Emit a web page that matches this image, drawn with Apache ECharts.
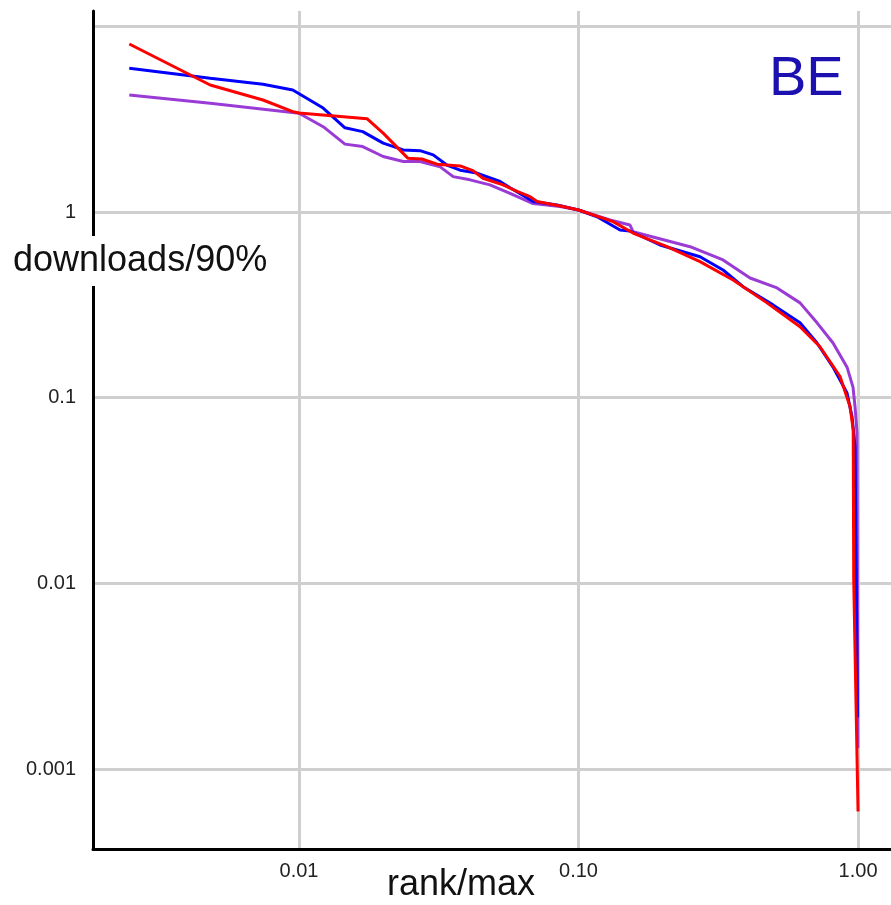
<!DOCTYPE html>
<html>
<head>
<meta charset="utf-8">
<script src="https://cdn.jsdelivr.net/npm/echarts@6/dist/echarts.min.js"></script>
<style>
html,body{margin:0;padding:0;background:#fff;}
#chart{width:891px;height:905px;}
</style>
</head>
<body>
<div id="chart"></div>
<script>
// ---- data ----
var xTickValues = [0.01, 0.1, 1];
var xTickLabels = ['0.01', '0.10', '1.00'];
var yGridValues = [0.001, 0.01, 0.1, 1, 10];
var yTickValues = [0.001, 0.01, 0.1, 1];
var yTickLabels = ['0.001', '0.01', '0.1', '1'];

var seriesNames = ['blue', 'red', 'purple'];

var blueRank = [0.00247, 0.00481, 0.00743, 0.0095, 0.0122, 0.0146, 0.0169, 0.0200, 0.0236, 0.0271, 0.0302, 0.0338, 0.0377, 0.0433, 0.0524, 0.0569, 0.0688, 0.0838, 0.1, 0.1165, 0.1408, 0.1528, 0.1957, 0.2721, 0.3289, 0.3879, 0.4965, 0.6201, 0.7134, 0.8138, 0.9134, 0.9517, 0.9757, 0.985, 0.995];
var blueDl   = [5.94, 5.25, 4.87, 4.54, 3.63, 2.84, 2.71, 2.35, 2.16, 2.14, 2.03, 1.79, 1.68, 1.62, 1.46, 1.35, 1.14, 1.09, 1.025, 0.943, 0.80, 0.79, 0.664, 0.574, 0.487, 0.396, 0.316, 0.253, 0.197, 0.146, 0.106, 0.0788, 0.0543, 0.012, 0.0019];

var redRank = [0.00247, 0.00481, 0.00743, 0.0095, 0.0100, 0.0175, 0.0200, 0.0245, 0.0275, 0.0312, 0.0377, 0.0419, 0.0455, 0.0537, 0.0603, 0.0671, 0.0711, 0.0880, 0.1, 0.1329, 0.1567, 0.2073, 0.2721, 0.3572, 0.4725, 0.6201, 0.7311, 0.8622, 0.9363, 0.961, 0.965, 0.985, 1.0];
var redDl   = [8.03, 4.83, 4.01, 3.47, 3.41, 3.18, 2.66, 1.95, 1.93, 1.81, 1.77, 1.67, 1.52, 1.40, 1.29, 1.21, 1.14, 1.07, 1.025, 0.887, 0.770, 0.650, 0.540, 0.430, 0.324, 0.241, 0.188, 0.130, 0.0895, 0.0671, 0.0105, 0.0020, 0.00059];

var purpleRank = [0.00247, 0.00481, 0.0100, 0.0122, 0.0146, 0.0169, 0.0200, 0.0236, 0.0271, 0.0320, 0.0356, 0.0409, 0.0482, 0.0569, 0.0688, 0.0859, 0.1, 0.1296, 0.1528, 0.1567, 0.2506, 0.3289, 0.4108, 0.5131, 0.6201, 0.7134, 0.8138, 0.9134, 0.9594, 0.9757, 0.9917, 0.998];
var purpleDl   = [4.27, 3.85, 3.40, 2.88, 2.32, 2.25, 1.99, 1.87, 1.87, 1.75, 1.55, 1.49, 1.40, 1.26, 1.11, 1.07, 1.025, 0.906, 0.851, 0.783, 0.650, 0.552, 0.441, 0.390, 0.324, 0.253, 0.197, 0.146, 0.114, 0.0893, 0.0646, 0.0013];

var colors = ['#0000ff', '#ff0000', '#9b3bd6'];
var titleText = 'BE';
var xName = 'rank/max';
var yName = 'downloads/90%';

function zip(a, b) { return a.map(function (v, i) { return [v, b[i]]; }); }
function lookup(vals, labels, v) {
  for (var i = 0; i < vals.length; i++) {
    if (Math.abs(Math.log10(vals[i]) - Math.log10(v)) < 1e-6) return labels[i];
  }
  return '';
}

var font = '"Liberation Sans", Arial, Helvetica, sans-serif';
var chart = echarts.init(document.getElementById('chart'), null, { renderer: 'canvas' });

var lineSeries = [
  { name: seriesNames[2], data: zip(purpleRank, purpleDl), color: colors[2] },
  { name: seriesNames[0], data: zip(blueRank, blueDl), color: colors[0] },
  { name: seriesNames[1], data: zip(redRank, redDl), color: colors[1] }
].map(function (s) {
  return {
    type: 'line', name: s.name, data: s.data, showSymbol: false, symbol: 'none',
    lineStyle: { color: s.color, width: 3 }, itemStyle: { color: s.color },
    animation: false, clip: true
  };
});

chart.setOption({
  animation: false,
  backgroundColor: '#fff',
  grid: { left: 93, right: 0, top: 11, bottom: 56, containLabel: false },
  title: [
    { text: titleText, left: 769, top: 52, padding: 0,
      textStyle: { fontFamily: font, fontSize: 56, fontWeight: 'normal', color: '#1c10b0', lineHeight: 56 } },
    { text: yName, left: 11, top: 236, padding: [4, 2, 4, 2], backgroundColor: '#fff',
      textStyle: { fontFamily: font, fontSize: 36, fontWeight: 'normal', color: '#111', lineHeight: 42 } },
    { text: xName, left: 387, top: 867, padding: 0,
      textStyle: { fontFamily: font, fontSize: 36, fontWeight: 'normal', color: '#111', lineHeight: 36 } }
  ],
  xAxis: {
    type: 'log', logBase: 10,
    min: 0.001832, max: 1.312,
    axisLine: { show: true, onZero: false, lineStyle: { color: '#000', width: 3 } },
    axisTick: { show: false, customValues: xTickValues },
    axisLabel: { customValues: xTickValues, margin: 12, fontFamily: font, fontSize: 20, color: '#222',
      formatter: function (v) { return lookup(xTickValues, xTickLabels, v); } },
    splitLine: { show: true, lineStyle: { color: '#cfcfcf', width: 3 } },
    minorSplitLine: { show: false }
  },
  yAxis: {
    type: 'log', logBase: 10,
    min: 0.000371, max: 12.09,
    axisLine: { show: true, onZero: false, lineStyle: { color: '#000', width: 3 } },
    axisTick: { show: false, customValues: yGridValues },
    axisLabel: { customValues: yTickValues, margin: 17, fontFamily: font, fontSize: 20, color: '#222',
      formatter: function (v) { return lookup(yTickValues, yTickLabels, v); } },
    splitLine: { show: true, lineStyle: { color: '#cfcfcf', width: 3 } }
  },
  series: lineSeries
});
</script>
</body>
</html>
